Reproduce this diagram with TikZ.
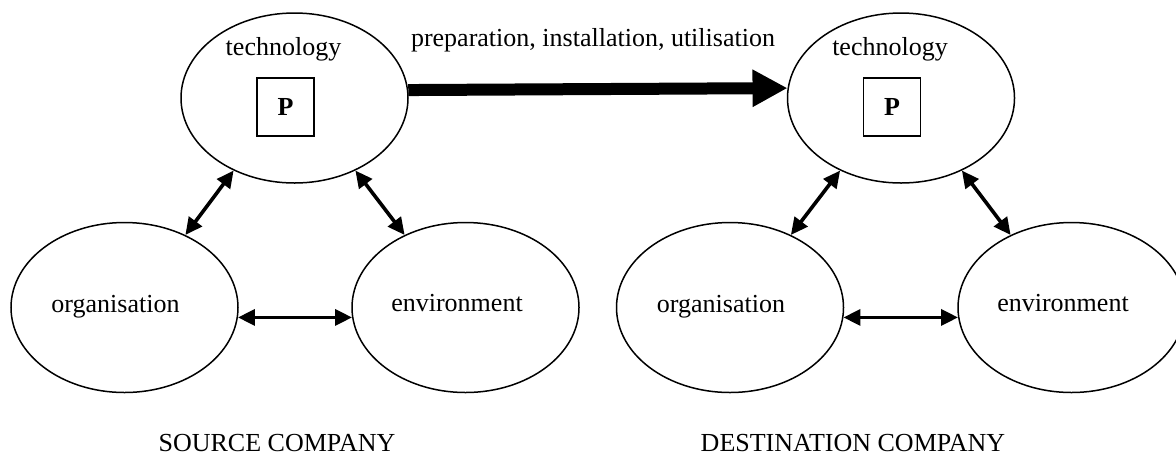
\documentclass[tikz,border=0pt]{standalone}
\usepackage{fontspec}
\setmainfont{Liberation Serif}
\usetikzlibrary{shapes.geometric, arrows.meta, positioning, calc}

\begin{document}
\begin{tikzpicture}[x=0.5pt, y=-0.5pt,
    every node/.style={font=\fontsize{13}{15.6}\selectfont},
    sphere/.style={draw, ellipse, line width=0.75pt, minimum width=113.5pt, minimum height=85pt, inner sep=0pt},
    pbox/.style={draw, line width=0.75pt, minimum width=28.5pt, minimum height=29pt, inner sep=0pt, font=\fontsize{13}{15.6}\selectfont\bfseries},
    caption/.style={anchor=base, inner sep=0pt},
    link/.style={{Triangle[length=8.5pt,width=8pt]}-{Triangle[length=8.5pt,width=8pt]}, line width=1.8pt},
    transfer/.style={-{Triangle[length=17.5pt,width=17.5pt]}, line width=6pt}]
    \useasboundingbox (0,0) rectangle (1176,462);

    \node[sphere] (techL) at (294.5,98) {};
    \node[sphere] (orgL) at (124.5,307.5) {};
    \node[sphere] (envL) at (465.5,307.5) {};
    \node[sphere] (techR) at (901,98) {};
    \node[sphere] (orgR) at (730,307.5) {};
    \node[sphere] (envR) at (1071.5,307.5) {};

    \node[caption] (techLtext) at ($(techL)+(-11,-42.5)$) {technology};
    \node[caption] (orgLtext) at ($(orgL)+(-9,5)$) {organisation};
    \node[caption] (envLtext) at ($(envL)+(-8.5,4)$) {environment};
    \node[caption] (techRtext) at ($(techR)+(-11,-42.5)$) {technology};
    \node[caption] (orgRtext) at ($(orgR)+(-9,5)$) {organisation};
    \node[caption] (envRtext) at ($(envR)+(-8.5,4)$) {environment};

    \node[pbox] (pL) at ($(techL)+(-9,9)$) {P};
    \node[pbox] (pR) at ($(techR)+(-9,9)$) {P};

    \draw[link] (techL.230) -- (orgL.50);
    \draw[link] (techL.310) -- (envL.130);
    \draw[link] (orgL.355) -- (envL.185);
    \draw[link] (techR.230) -- (orgR.50);
    \draw[link] (techR.310) -- (envR.130);
    \draw[link] (orgR.355) -- (envR.185);

    \draw[transfer] (techL.4.5) -- (techR.175.5);
    \node[caption] (flowtext) at (593,46) {preparation, installation, utilisation};

    \node[caption] (srctext) at (277,451) {SOURCE COMPANY};
    \node[caption] (dsttext) at (853,451) {DESTINATION COMPANY};
\end{tikzpicture}
\end{document}
